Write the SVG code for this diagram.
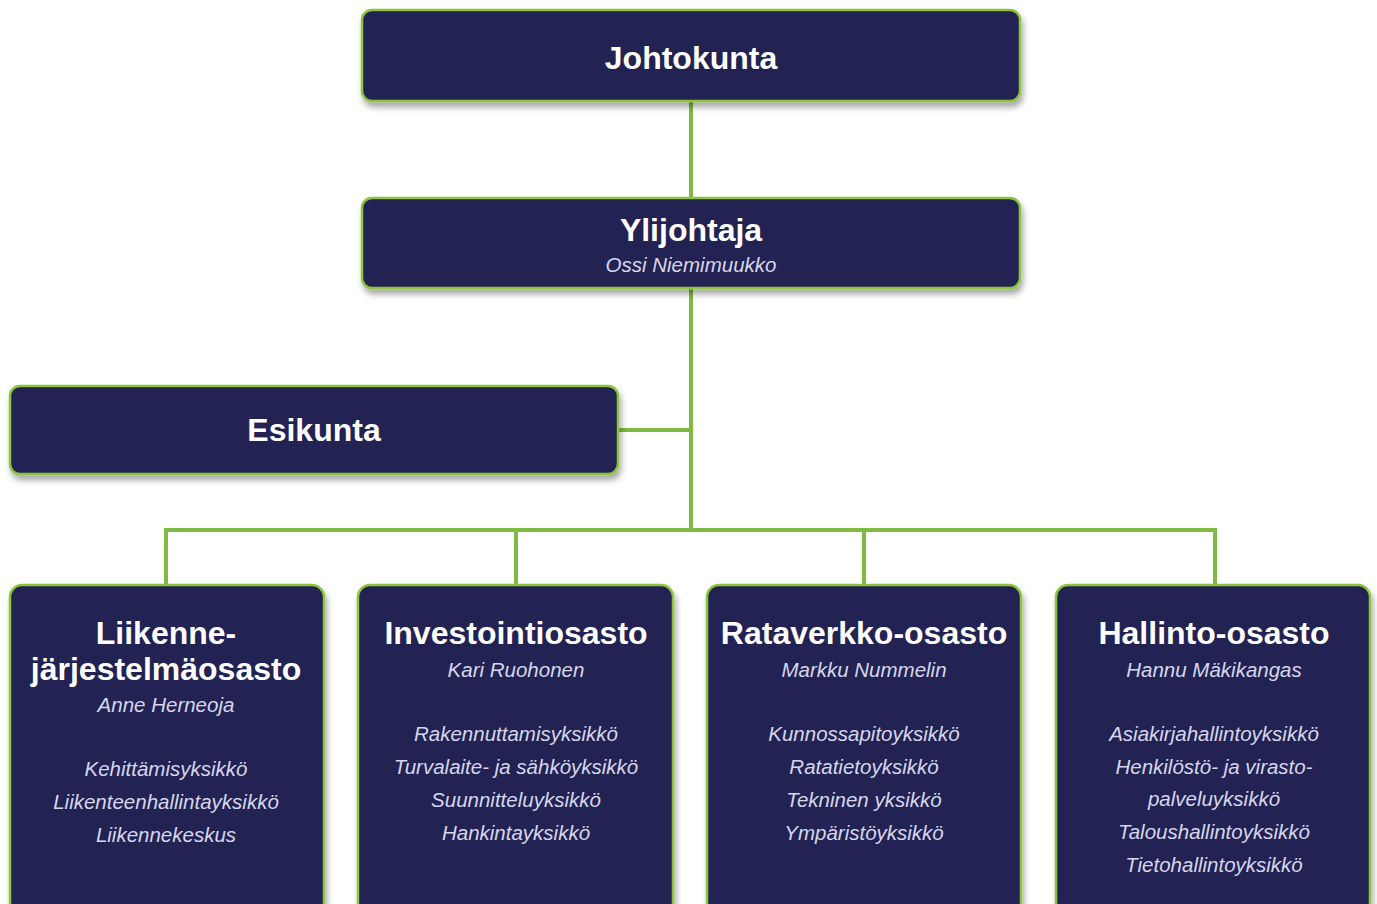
<svg xmlns="http://www.w3.org/2000/svg" width="1377" height="904" viewBox="0 0 1377 904">
<defs>
<filter id="sh" x="-5%" y="-10%" width="110%" height="130%">
<feGaussianBlur in="SourceAlpha" stdDeviation="3"/>
<feOffset dx="2" dy="5"/>
<feComponentTransfer><feFuncA type="linear" slope="0.35"/></feComponentTransfer>
<feMerge><feMergeNode/><feMergeNode in="SourceGraphic"/></feMerge>
</filter>
</defs>
<style>
.box{fill:#232452;stroke:#8cc43c;stroke-width:2.5;filter:url(#sh)}
.t{font-family:"Liberation Sans",Arial,sans-serif;font-weight:bold;font-size:32px;fill:#ffffff;text-anchor:middle}
.n{font-family:"Liberation Sans",Arial,sans-serif;font-style:italic;font-size:20.5px;fill:#d6d6ee;text-anchor:middle}
.c{fill:none;stroke:#7fba42;stroke-width:4}
</style>
<rect width="1377" height="904" fill="#ffffff"/>
<g id="connectors">
<line class="c" x1="691" y1="100" x2="691" y2="199"/>
<line class="c" x1="691" y1="287" x2="691" y2="532"/>
<line class="c" x1="617" y1="430" x2="691" y2="430"/>
<polyline class="c" points="166,586 166,530 1215,530 1215,586"/>
<line class="c" x1="516" y1="530" x2="516" y2="586"/>
<line class="c" x1="864" y1="530" x2="864" y2="586"/>
</g>
<g id="johtokunta">
<rect class="box" x="362" y="10" width="658" height="91" rx="10"/>
<text class="t" x="691" y="69">Johtokunta</text>
</g>
<g id="ylijohtaja">
<rect class="box" x="362" y="198" width="658" height="90" rx="10"/>
<text class="t" x="691" y="241">Ylijohtaja</text>
<text class="n" x="691" y="272">Ossi Niemimuukko</text>
</g>
<g id="esikunta">
<rect class="box" x="10" y="386" width="608" height="88" rx="10"/>
<text class="t" x="314" y="441">Esikunta</text>
</g>
<g id="liikenne">
<rect class="box" x="10" y="585" width="314" height="330" rx="12"/>
<text class="t" x="166" y="644">Liikenne-</text>
<text class="t" x="166" y="680">järjestelmäosasto</text>
<text class="n" x="166" y="712">Anne Herneoja</text>
<text class="n" x="166" y="776">Kehittämisyksikkö</text>
<text class="n" x="166" y="809">Liikenteenhallintayksikkö</text>
<text class="n" x="166" y="842">Liikennekeskus</text>
</g>
<g id="investointi">
<rect class="box" x="358" y="585" width="315" height="330" rx="12"/>
<text class="t" x="516" y="644">Investointiosasto</text>
<text class="n" x="516" y="677">Kari Ruohonen</text>
<text class="n" x="516" y="741">Rakennuttamisyksikkö</text>
<text class="n" x="516" y="774">Turvalaite- ja sähköyksikkö</text>
<text class="n" x="516" y="807">Suunnitteluyksikkö</text>
<text class="n" x="516" y="840">Hankintayksikkö</text>
</g>
<g id="rataverkko">
<rect class="box" x="707" y="585" width="314" height="330" rx="12"/>
<text class="t" x="864" y="644">Rataverkko-osasto</text>
<text class="n" x="864" y="677">Markku Nummelin</text>
<text class="n" x="864" y="741">Kunnossapitoyksikkö</text>
<text class="n" x="864" y="774">Ratatietoyksikkö</text>
<text class="n" x="864" y="807">Tekninen yksikkö</text>
<text class="n" x="864" y="840">Ympäristöyksikkö</text>
</g>
<g id="hallinto">
<rect class="box" x="1056" y="585" width="314" height="330" rx="12"/>
<text class="t" x="1214" y="644">Hallinto-osasto</text>
<text class="n" x="1214" y="677">Hannu Mäkikangas</text>
<text class="n" x="1214" y="741">Asiakirjahallintoyksikkö</text>
<text class="n" x="1214" y="774">Henkilöstö- ja virasto-</text>
<text class="n" x="1214" y="806">palveluyksikkö</text>
<text class="n" x="1214" y="839">Taloushallintoyksikkö</text>
<text class="n" x="1214" y="872">Tietohallintoyksikkö</text>
</g>
</svg>
